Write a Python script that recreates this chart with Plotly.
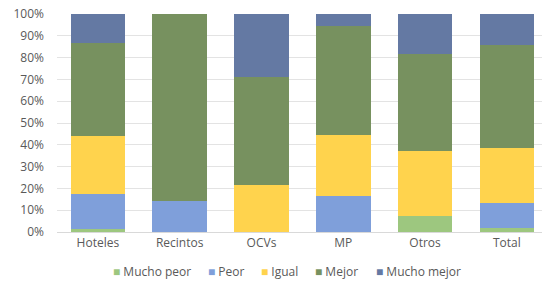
import plotly.graph_objects as go

categories = ["Hoteles", "Recintos", "OCVs", "MP", "Otros", "Total"]
series_names = ["Mucho peor", "Peor", "Igual", "Mejor", "Mucho mejor"]
mucho_peor = [1.4, 0.0, 0.0, 0.0, 7.5, 2.0]
peor = [16.0, 14.2, 0.0, 16.5, 0.0, 11.3]
igual = [26.8, 0.0, 21.4, 27.8, 29.5, 25.4]
mejor = [42.5, 85.8, 49.8, 50.3, 44.7, 47.2]
mucho_mejor = [13.3, 0.0, 28.8, 5.4, 18.3, 14.1]
colors = ["#9DC77F", "#7F9FDA", "#FFD34D", "#77915F", "#6479A3"]
y_ticks = [0, 10, 20, 30, 40, 50, 60, 70, 80, 90, 100]

W, H = 542, 282
L, R, T, B = 57, 0, 14, 50
FONT = "Open Sans, Liberation Sans, Arial, sans-serif"

fig = go.Figure()
for name, vals, col in zip(series_names,
                           [mucho_peor, peor, igual, mejor, mucho_mejor], colors):
    fig.add_trace(go.Bar(
        x=categories, y=[v / 100 for v in vals], name=name,
        marker=dict(color=col, line=dict(width=0)),
    ))

# legend built as annotations to match compact spacing
legend_px = [111, 206, 259, 313, 374]
pw = W - L - R
ph = H - T - B
for name, col, px in zip(series_names, colors, legend_px):
    fig.add_annotation(
        x=(px - L) / pw, y=(H - B - 271) / ph, xref="paper", yref="paper",
        xanchor="left", yanchor="middle", showarrow=False,
        text=f'<span style="color:{col}">■</span> {name}',
        font=dict(family=FONT, size=12, color="#595959"),
    )

fig.update_layout(
    barmode="stack",
    bargap=0.333,
    width=W, height=H,
    margin=dict(l=L, r=R, t=T, b=B, autoexpand=False),
    paper_bgcolor="white", plot_bgcolor="white",
    font=dict(family=FONT, size=12, color="#595959"),
    showlegend=False,
    xaxis=dict(range=[-0.5, 5.43], showline=True, linecolor="#D9D9D9", linewidth=1,
               ticks="", tickfont=dict(size=12, color="#595959"), fixedrange=True,
               automargin=False),
    yaxis=dict(range=[0, 1], tickvals=[t / 100 for t in y_ticks],
               ticktext=[f"{t}%" for t in y_ticks],
               showgrid=True, gridcolor="#E3E3E3", gridwidth=1,
               zeroline=False, ticks="", tickfont=dict(size=12, color="#595959"),
               ticklabelstandoff=12, automargin=False),
)

fig.write_html(
    "out.html",
    config={"displayModeBar": False},
    post_script="document.body.style.margin='0';document.body.style.overflow='hidden';",
)
